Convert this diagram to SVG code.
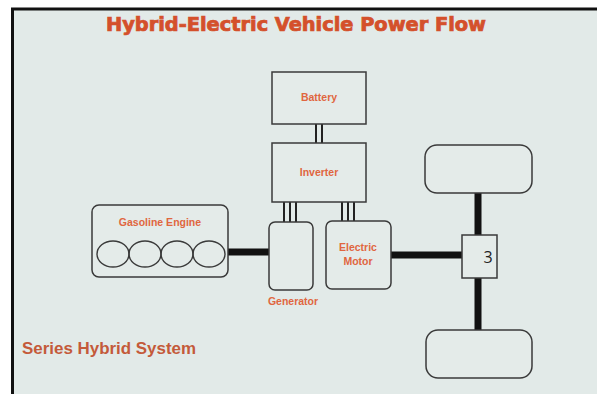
<svg xmlns="http://www.w3.org/2000/svg" width="597" height="394" viewBox="0 0 597 394">
<style>
.box{fill:#e4ebe9;stroke:#3a3a3a;stroke-width:1.5}
.lbl{font-family:"Liberation Sans",Arial,sans-serif;font-weight:bold;font-size:10.5px;fill:#e0663f;text-anchor:middle}
.shaft{stroke:#111;stroke-width:7;fill:none}
.wire{stroke:#222;stroke-width:2;fill:none}
.cyl{fill:none;stroke:#3a3a3a;stroke-width:1.4}
</style>
<rect x="0" y="0" width="597" height="394" fill="#ffffff"/>
<rect x="12" y="9" width="585" height="385" fill="#e2eae8"/>
<path d="M12.5,394 V9 H597" fill="none" stroke="#111" stroke-width="3"/>
<text x="296" y="31" font-family="'DejaVu Sans Condensed','DejaVu Sans',sans-serif" font-weight="bold" font-size="19" fill="#d4502b" stroke="#d4502b" stroke-width="0.7" text-anchor="middle" textLength="380" lengthAdjust="spacingAndGlyphs">Hybrid-Electric Vehicle Power Flow</text>

<g id="connectors">
  <path class="wire" d="M316,124 V143 M322,124 V143"/>
  <path class="wire" d="M284,202 V222 M290,202 V222 M296,202 V222"/>
  <path class="wire" d="M342,202 V221 M348,202 V221 M354,202 V221"/>
  <path class="shaft" d="M228,252 H269"/>
  <path class="shaft" d="M391,255 H462"/>
  <path class="shaft" stroke-width="8" d="M478,193 V235 M478,278 V330"/>
</g>

<g id="battery">
  <rect class="box" x="272" y="72" width="94" height="52"/>
  <text class="lbl" x="319" y="101">Battery</text>
</g>
<g id="inverter">
  <rect class="box" x="272" y="143" width="94" height="59"/>
  <text class="lbl" x="319" y="176">Inverter</text>
</g>
<g id="engine">
  <rect class="box" x="92" y="205" width="136" height="72" rx="7"/>
  <text class="lbl" x="160" y="226">Gasoline Engine</text>
  <ellipse class="cyl" cx="113" cy="254" rx="16" ry="13"/>
  <ellipse class="cyl" cx="145" cy="254" rx="16" ry="13"/>
  <ellipse class="cyl" cx="177" cy="254" rx="16" ry="13"/>
  <ellipse class="cyl" cx="209" cy="254" rx="16" ry="13"/>
</g>
<g id="generator">
  <rect class="box" x="269" y="222" width="44" height="68" rx="6"/>
  <text class="lbl" x="293" y="305">Generator</text>
</g>
<g id="motor">
  <rect class="box" x="326" y="221" width="65" height="68" rx="6"/>
  <text class="lbl" x="358" y="251">Electric</text>
  <text class="lbl" x="358" y="265">Motor</text>
</g>
<g id="differential">
  <rect class="box" x="462" y="235" width="35" height="43"/>
  <text x="488" y="263" font-family="'Open Sans','DejaVu Sans',sans-serif" font-size="16" fill="#222" text-anchor="middle">3</text>
</g>
<g id="wheel-top">
  <rect class="box" x="425" y="145" width="107" height="48" rx="12"/>
</g>
<g id="wheel-bottom">
  <rect class="box" x="426" y="330" width="106" height="48" rx="12"/>
</g>
<text x="22" y="354" font-family="'Liberation Sans',Arial,sans-serif" font-weight="bold" font-size="16" fill="#c45a3a" textLength="174" lengthAdjust="spacingAndGlyphs">Series Hybrid System</text>
</svg>
